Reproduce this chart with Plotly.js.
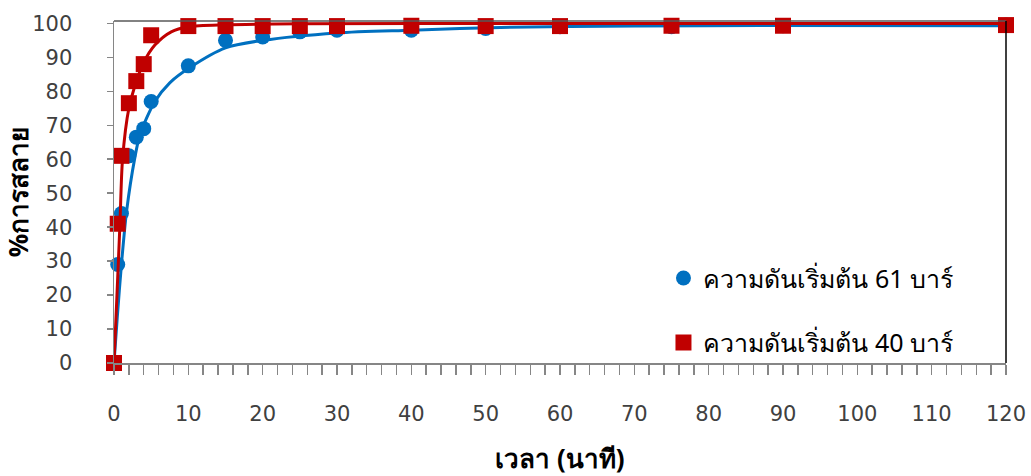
<!DOCTYPE html>
<html>
<head>
<meta charset="utf-8">
<script src="https://cdn.plot.ly/plotly-3.0.1.min.js"></script>
<style>html,body{margin:0;padding:0;background:#fff;}#chart{width:1031px;height:476px;}</style>
</head>
<body>
<div id="chart"></div>
<script>
// Measured points
const timeMin = [0, 0.5, 1, 2, 3, 4, 5, 10, 15, 20, 25, 30, 40, 50, 60, 75, 90, 120];
const decay61 = [0, 29, 44, 61, 66.5, 69, 77, 87.5, 95, 96, 97.5, 98, 98, 98.5, 99, 99, 99.3, 99.5];
const decay40 = [0, 41, 61, 76.5, 83, 88, 96.5, 99.2, 99.2, 99.2, 99.2, 99.2, 99.3, 99.2, 99.2, 99.3, 99.3, 99.5];

// Trend curves
const curveT61 = [0, 0.44, 1.0, 1.7, 2.8, 3.5, 5.5, 7.5, 10.2, 15, 20, 30, 40, 52, 70, 87, 120];
const curveY61 = [0, 13.4, 29, 44.8, 60.4, 67.3, 77, 82.5, 87, 92.8, 95, 97.2, 98, 98.8, 99.2, 99.4, 99.3];
const curveT40 = [0, 0.4, 0.8, 1.15, 2, 3, 4, 5.5, 7.7, 10, 15, 25, 50, 120];
const curveY40 = [0, 20, 41, 60, 75, 82.8, 88.5, 93.6, 97.5, 99, 99.6, 99.9, 100, 100];

const seriesNames = ['ความดันเริ่มต้น 61 บาร์', 'ความดันเริ่มต้น 40 บาร์'];
const xTicks = [0, 10, 20, 30, 40, 50, 60, 70, 80, 90, 100, 110, 120];
const yTicks = [0, 10, 20, 30, 40, 50, 60, 70, 80, 90, 100];
const xTitle = 'เวลา (นาที)';
const yTitle = '%การสลาย';

const BLUE = '#0070C0', RED = '#C00000';
const numFont = {family: 'DejaVu Sans, Noto Sans, sans-serif', size: 21, color: '#404040'};

const traces = [
  {x: timeMin, y: decay61, mode: 'markers', type: 'scatter', name: seriesNames[0], legendgroup: 'a',
   marker: {color: BLUE, size: 15, symbol: 'circle'}, cliponaxis: false},
  {x: curveT61, y: curveY61, mode: 'lines', type: 'scatter', showlegend: false, hoverinfo: 'skip',
   line: {color: BLUE, width: 3, shape: 'spline', smoothing: 0.8}, cliponaxis: false},
  {x: timeMin, y: decay40, mode: 'markers', type: 'scatter', name: seriesNames[1], legendgroup: 'b',
   marker: {color: RED, size: 16, symbol: 'square'}, cliponaxis: false},
  {x: curveT40, y: curveY40, mode: 'lines', type: 'scatter', showlegend: false, hoverinfo: 'skip',
   line: {color: RED, width: 3, shape: 'spline', smoothing: 0.8}, cliponaxis: false}
];

const layout = {
  width: 1031, height: 476,
  margin: {l: 114, r: 25, t: 21, b: 113},
  paper_bgcolor: '#fff', plot_bgcolor: '#fff',
  showlegend: true,
  legend: {x: 0.616, y: 0.315, xanchor: 'left', yanchor: 'top', tracegroupgap: 29,
           font: {family: 'Noto Sans, DejaVu Sans, sans-serif', size: 25, color: '#000'},
           bgcolor: 'rgba(0,0,0,0)', itemsizing: 'trace'},
  xaxis: {
    range: [0, 120], tickvals: xTicks, ticktext: xTicks.map(String),
    showgrid: false, zeroline: false, showline: true, linecolor: '#868686', linewidth: 1.5,
    ticks: 'outside', ticklen: 10, tickcolor: '#868686', tickwidth: 1.5,
    minor: {dtick: 2, ticks: 'outside', ticklen: 10, tickcolor: '#868686', tickwidth: 1.5, showgrid: false},
    tickfont: numFont, ticklabelstandoff: 21,
    title: {text: xTitle, font: {family: 'Noto Sans, DejaVu Sans, sans-serif', size: 26, color: '#000', weight: 'bold'}, standoff: 25}
  },
  yaxis: {
    range: [0, 100.7], tickvals: yTicks, ticktext: yTicks.map(String),
    showgrid: false, zeroline: false, showline: true, linecolor: '#868686', linewidth: 1.5,
    ticks: 'outside', ticklen: 6, tickcolor: '#868686', tickwidth: 1.5,
    tickfont: numFont, ticklabelstandoff: 30,
    title: {text: yTitle, font: {family: 'Noto Sans, DejaVu Sans, sans-serif', size: 26, color: '#000', weight: 'bold'}, standoff: 0}
  },
  shapes: [
    {type: 'line', xref: 'paper', yref: 'paper', x0: 0, x1: 1, y0: 1, y1: 1, line: {color: '#595959', width: 1.5}},
    {type: 'line', xref: 'paper', yref: 'paper', x0: 1, x1: 1, y0: 0, y1: 1, line: {color: '#000', width: 1.5}}
  ]
};

Plotly.newPlot('chart', traces, layout, {displayModeBar: false, staticPlot: true});
</script>
</body>
</html>
